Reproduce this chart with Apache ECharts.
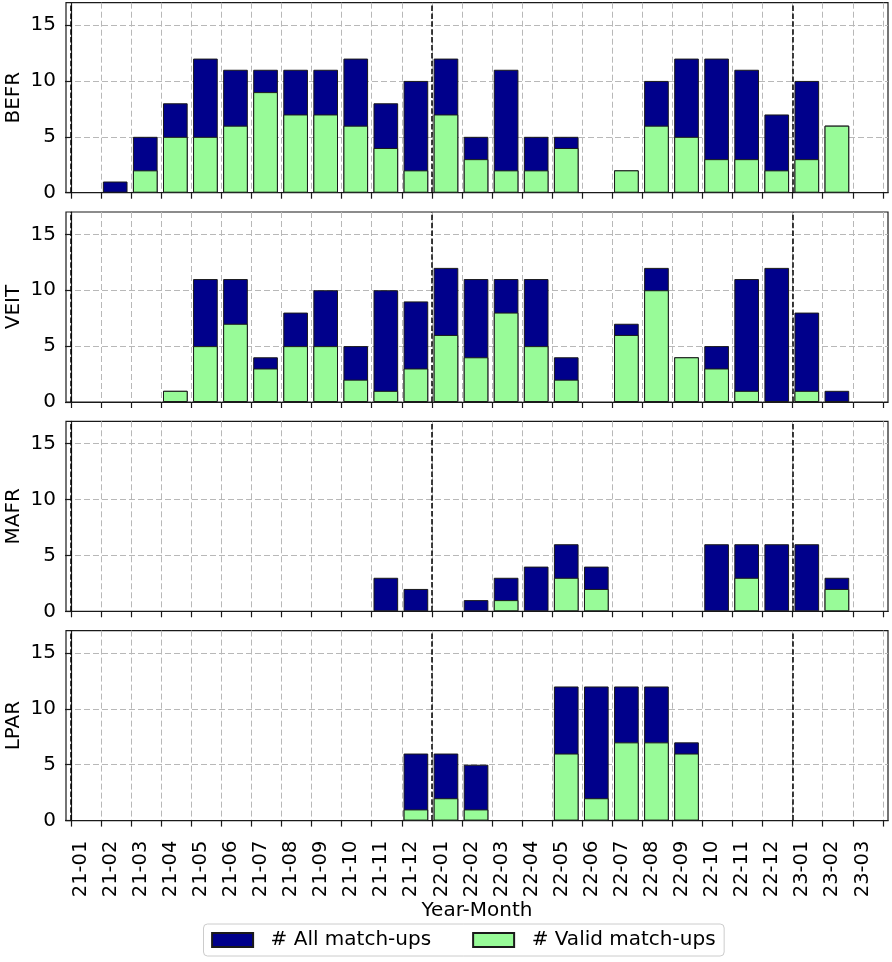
<!DOCTYPE html>
<html>
<head>
<meta charset="utf-8">
<script src="https://cdn.jsdelivr.net/npm/echarts@6/dist/echarts.min.js"></script>
<style>
  html, body { margin: 0; padding: 0; background: #fff; }
  #chart { width: 892px; height: 962px; }
</style>
</head>
<body>
<div id="chart"></div>
<script>
// 月份类别
const months = ['21-01', '21-02', '21-03', '21-04', '21-05', '21-06', '21-07', '21-08', '21-09', '21-10', '21-11', '21-12',
  '22-01', '22-02', '22-03', '22-04', '22-05', '22-06', '22-07', '22-08', '22-09', '22-10', '22-11', '22-12',
  '23-01', '23-02', '23-03'];
const stations = ['BEFR', 'VEIT', 'MAFR', 'LPAR'];
const yTicks = [0, 5, 10, 15];

// 每个站点的数据：全部 / 有效
const befrAll   = [0, 1, 5, 8, 12, 11, 11, 11, 11, 12, 8, 10, 12, 5, 11, 5, 5, 0, 2, 10, 12, 12, 11, 7, 10, 6, 0];
const befrValid = [0, 0, 2, 5, 5, 6, 9, 7, 7, 6, 4, 2, 7, 3, 2, 2, 4, 0, 2, 6, 5, 3, 3, 2, 3, 6, 0];
const veitAll   = [0, 0, 0, 1, 11, 11, 4, 8, 10, 5, 10, 9, 12, 11, 11, 11, 4, 0, 7, 12, 4, 5, 11, 12, 8, 1, 0];
const veitValid = [0, 0, 0, 1, 5, 7, 3, 5, 5, 2, 1, 3, 6, 4, 8, 5, 2, 0, 6, 10, 4, 3, 1, 0, 1, 0, 0];
const mafrAll   = [0, 0, 0, 0, 0, 0, 0, 0, 0, 0, 3, 2, 0, 1, 3, 4, 6, 4, 0, 0, 0, 6, 6, 6, 6, 3, 0];
const mafrValid = [0, 0, 0, 0, 0, 0, 0, 0, 0, 0, 0, 0, 0, 0, 1, 0, 3, 2, 0, 0, 0, 0, 3, 0, 0, 2, 0];
const lparAll   = [0, 0, 0, 0, 0, 0, 0, 0, 0, 0, 0, 6, 6, 5, 0, 0, 12, 12, 12, 12, 7, 0, 0, 0, 0, 0, 0];
const lparValid = [0, 0, 0, 0, 0, 0, 0, 0, 0, 0, 0, 1, 2, 1, 0, 0, 6, 2, 7, 7, 6, 0, 0, 0, 0, 0, 0];

const allData = [befrAll, veitAll, mafrAll, lparAll];
const validData = [befrValid, veitValid, mafrValid, lparValid];

const FONT = 'DejaVu Sans';
const FS = 20;
const gridLeft = 66, gridWidth = 822, gridHeight = 190;
const gridTops = [2.7, 212, 421.3, 630.6];
const xMin = -0.166, xMax = 27.17;
const unit = gridWidth / (xMax - xMin);
const barW = 0.82 * unit;
const labelShift = 0.32;   // 标签相对刻度右移

const tickVals = [];
for (let i = 0; i <= months.length; i++) tickVals.push(i);
const labelVals = months.map((m, i) => i + labelShift);
// 每年一月画黑色虚线
const yearStarts = months.map((m, i) => m.endsWith('-01') ? i : -1).filter(i => i >= 0);

// 0 值不画柱子
const toPoints = (arr) => arr.map((v, i) => [i + 0.47, v === 0 ? null : v]);

const grids = [], xAxes = [], yAxes = [], series = [];
stations.forEach((name, k) => {
  const isLast = k === stations.length - 1;
  grids.push({
    left: gridLeft, top: gridTops[k], width: gridWidth, height: gridHeight,
    containLabel: false, outerBoundsMode: 'none',
    show: true, borderColor: '#1a1a1a', borderWidth: 1.2, backgroundColor: 'transparent'
  });
  xAxes.push({
    type: 'value', gridIndex: k, min: xMin, max: xMax,
    axisLine: { show: true, lineStyle: { color: '#1a1a1a', width: 1.2 } },
    axisTick: { show: true, inside: false, length: 6, customValues: tickVals, lineStyle: { color: '#1a1a1a', width: 1.2 } },
    axisLabel: {
      show: isLast, customValues: labelVals, rotate: 90, margin: 20,
      fontFamily: FONT, fontSize: 19.5, color: '#000',
      formatter: (v) => months[Math.round(v - labelShift)] || ''
    },
    splitLine: { show: true, lineStyle: { color: '#b8b8b8', width: 1, type: [6, 3] } },
    name: isLast ? 'Year-Month' : '', nameLocation: 'middle', nameGap: 78,
    nameTextStyle: { fontFamily: FONT, fontSize: FS, color: '#000' }
  });
  yAxes.push({
    type: 'value', gridIndex: k, min: 0, max: 17,
    axisLine: { show: true, lineStyle: { color: '#1a1a1a', width: 1.2 } },
    axisTick: { show: true, length: 6, customValues: yTicks, lineStyle: { color: '#1a1a1a', width: 1.2 } },
    axisLabel: { customValues: yTicks, margin: 10, fontFamily: FONT, fontSize: FS, color: '#000' },
    splitLine: { show: true, lineStyle: { color: '#b8b8b8', width: 1, type: [6, 3] } },
    name: name, nameLocation: 'middle', nameGap: 42, nameRotate: 90, nameMoveOverlap: false,
    nameTextStyle: { fontFamily: FONT, fontSize: FS, color: '#000' }
  });
  series.push({
    name: '# All match-ups', type: 'bar', xAxisIndex: k, yAxisIndex: k,
    data: toPoints(allData[k]),
    barWidth: barW, barGap: '-100%',
    itemStyle: { color: '#00008b', borderColor: '#1a1a1a', borderWidth: 1 },
    markLine: {
      silent: true, symbol: 'none', label: { show: false },
      lineStyle: { color: '#000', width: 1.5, type: [5.5, 2.4] },
      data: yearStarts.map(i => ({ xAxis: i }))
    }
  });
  series.push({
    name: '# Valid match-ups', type: 'bar', xAxisIndex: k, yAxisIndex: k,
    data: toPoints(validData[k]),
    barWidth: barW, barGap: '-100%',
    itemStyle: { color: '#98fb98', borderColor: '#1a1a1a', borderWidth: 1 }
  });
});

const chart = echarts.init(document.getElementById('chart'));
chart.setOption({
  animation: false,
  backgroundColor: '#fff',
  grid: grids,
  xAxis: xAxes,
  yAxis: yAxes,
  legend: {
    left: 203.5, top: 924,
    icon: 'rect',
    itemWidth: 41, itemHeight: 14, itemGap: 41,
    padding: [5, 8.6, 5, 7.6],
    borderColor: '#cccccc', borderWidth: 1, borderRadius: 4,
    textStyle: { fontFamily: FONT, fontSize: FS, color: '#000', padding: [0, 0, 0, 12.5], lineHeight: 22 },
    data: ['# All match-ups', '# Valid match-ups']
  },
  series: series
});
</script>
</body>
</html>
